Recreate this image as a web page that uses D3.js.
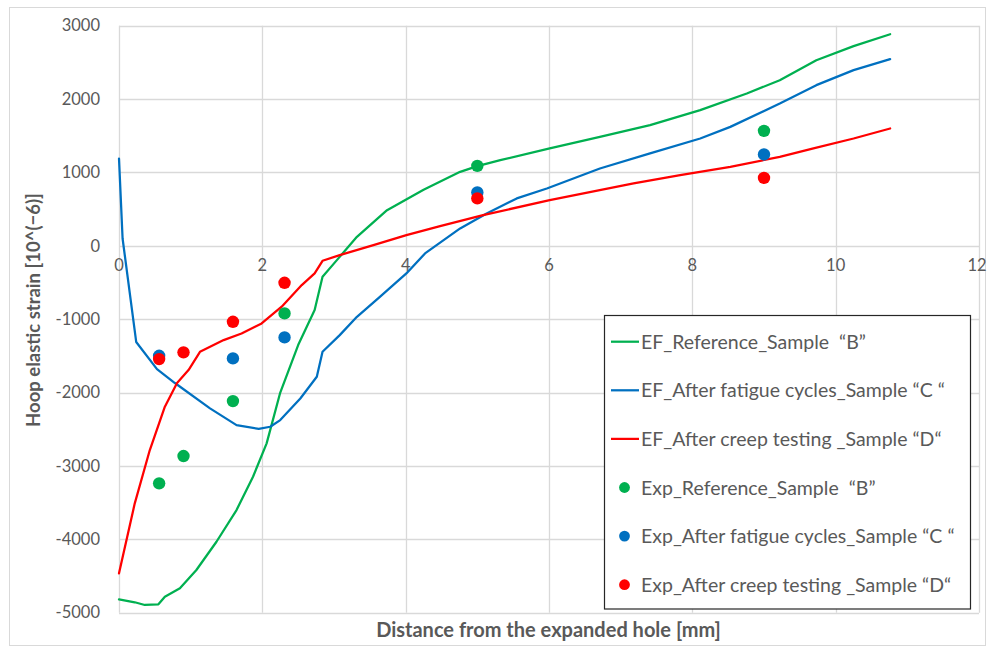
<!DOCTYPE html>
<html>
<head>
<meta charset="utf-8">
<script src="https://cdn.jsdelivr.net/npm/d3@7"></script>
<style>
  html, body { margin: 0; padding: 0; background: #fff; }
  svg { display: block; font-family: Lato, "Open Sans", sans-serif; }
</style>
</head>
<body>
<svg id="chart" width="987" height="653"></svg>
<script>
// ---- data ----
const xTicks = [0, 2, 4, 6, 8, 10, 12];
const yTicks = [3000, 2000, 1000, 0, -1000, -2000, -3000, -4000, -5000];

const efRefX = [0, 0.22, 0.36, 0.55, 0.64, 0.85, 1.08, 1.36, 1.64, 1.87, 2.06, 2.25, 2.5, 2.73, 2.84, 3.04, 3.32, 3.74, 4.25, 4.76, 5.0, 5.32, 6.01, 6.71, 7.41, 8.11, 8.76, 9.22, 9.73, 10.25, 10.76];
const efRefY = [-4817, -4858, -4895, -4886, -4782, -4668, -4418, -4033, -3601, -3147, -2692, -2000, -1353, -876, -422, -195, 123, 486, 765, 1008, 1086, 1168, 1327, 1485, 1644, 1849, 2076, 2257, 2530, 2721, 2884];

const efFatX = [0, 0.05, 0.24, 0.53, 0.78, 1.27, 1.64, 1.95, 2.11, 2.25, 2.53, 2.76, 2.84, 3.08, 3.32, 3.64, 4.01, 4.27, 4.76, 5.13, 5.55, 5.97, 6.71, 7.41, 8.11, 8.53, 9.22, 9.73, 10.25, 10.76];
const efFatY = [1190, 100, -1310, -1680, -1870, -2215, -2443, -2495, -2466, -2375, -2080, -1785, -1444, -1217, -967, -695, -376, -104, 237, 441, 646, 782, 1054, 1259, 1463, 1621, 1940, 2190, 2394, 2544];

const efCreepX = [0, 0.22, 0.43, 0.64, 0.81, 0.97, 1.13, 1.46, 1.71, 1.99, 2.27, 2.55, 2.73, 2.84, 3.08, 3.55, 4.01, 4.48, 5.08, 6.01, 7.18, 7.83, 8.53, 9.22, 9.69, 10.25, 10.76];
const efCreepY = [-4463, -3510, -2783, -2193, -1870, -1693, -1444, -1285, -1194, -1057, -830, -535, -376, -204, -127, 10, 146, 268, 418, 623, 850, 963, 1076, 1213, 1327, 1463, 1599];

const expRefX = [0.56, 0.9, 1.59, 2.31, 5.0, 9.0];
const expRefY = [-3237, -2865, -2116, -921, 1090, 1567];
const expFatX = [0.56, 1.59, 2.31, 5.0, 9.0];
const expFatY = [-1499, -1534, -1248, 727, 1245];
const expCreepX = [0.56, 0.9, 1.59, 2.31, 5.0, 9.0];
const expCreepY = [-1544, -1452, -1035, -504, 646, 926];

const legendLabels = [
  "EF_Reference_Sample  \u201CB\u201D",
  "EF_After fatigue cycles_Sample \u201CC \u201C",
  "EF_After creep testing _Sample \u201CD\u201C",
  "Exp_Reference_Sample  \u201CB\u201D",
  "Exp_After fatigue cycles_Sample \u201CC \u201C",
  "Exp_After creep testing _Sample \u201CD\u201C"
];
const xTitle = "Distance from the expanded hole [mm]";
const yTitle = "Hoop elastic strain [10^(\u22126)]";

// ---- build ----
const colors = { ref: "#00B050", fat: "#0070C0", creep: "#FF0000" };
const zip = (xs, ys) => xs.map((x, i) => ({ x, y: ys[i] }));
const lines = [
  { key: "ref", data: zip(efRefX, efRefY) },
  { key: "fat", data: zip(efFatX, efFatY) },
  { key: "creep", data: zip(efCreepX, efCreepY) }
];
const points = [
  { key: "ref", data: zip(expRefX, expRefY) },
  { key: "fat", data: zip(expFatX, expFatY) },
  { key: "creep", data: zip(expCreepX, expCreepY) }
];

const svg = d3.select("#chart");
const grid = "#d9d9d9", textCol = "#595959";

// chart area border
svg.append("rect").attr("x", 9.5).attr("y", 7.5).attr("width", 976).attr("height", 638)
  .attr("fill", "#fff").attr("stroke", grid).attr("stroke-width", 1);

const x = d3.scaleLinear().domain([0, 12]).range([119, 979]);
const y = d3.scaleLinear().domain([-5000, 3000]).range([612.7, 25.7]);

// gridlines
svg.append("g").selectAll("line").data(yTicks).join("line")
  .attr("x1", x(0)).attr("x2", x(12))
  .attr("y1", d => Math.round(y(d)) + 0.5).attr("y2", d => Math.round(y(d)) + 0.5)
  .attr("stroke", grid).attr("stroke-width", 1.3);
svg.append("g").selectAll("line").data(xTicks).join("line")
  .attr("y1", y(3000)).attr("y2", y(-5000))
  .attr("x1", d => Math.round(x(d)) + 0.5).attr("x2", d => Math.round(x(d)) + 0.5)
  .attr("stroke", grid).attr("stroke-width", 1.3);

// y tick labels
svg.append("g").selectAll("text").data(yTicks).join("text")
  .attr("x", 100).attr("y", d => y(d)).attr("dy", "0.35em")
  .attr("text-anchor", "end").attr("fill", textCol).attr("font-size", 16.5)
  .text(d => d);
// x tick labels (at the zero line); the last one sits at the right edge
svg.append("g").selectAll("text").data(xTicks).join("text")
  .attr("x", d => d === 12 ? 977 : x(d)).attr("y", y(0) + 25.5)
  .attr("text-anchor", "middle").attr("fill", textCol).attr("font-size", 16.5)
  .text(d => d);

// lines
const lineGen = d3.line().x(d => x(d.x)).y(d => y(d.y));
svg.append("g").selectAll("path").data(lines).join("path")
  .attr("d", d => lineGen(d.data))
  .attr("fill", "none").attr("stroke", d => colors[d.key])
  .attr("stroke-width", 2.25).attr("stroke-linejoin", "round").attr("stroke-linecap", "round");

// markers
points.forEach(s => {
  svg.append("g").selectAll("circle").data(s.data).join("circle")
    .attr("cx", d => x(d.x)).attr("cy", d => y(d.y)).attr("r", 6.2)
    .attr("fill", colors[s.key]);
});

// axis titles
svg.append("text").attr("x", 548.5).attr("y", 637)
  .attr("text-anchor", "middle").attr("font-weight", "bold").attr("font-size", 20)
  .attr("fill", textCol).text(xTitle);
svg.append("text").attr("transform", "translate(40,310) rotate(-90)")
  .attr("text-anchor", "middle").attr("font-weight", "bold").attr("font-size", 18.5)
  .attr("fill", textCol).text(yTitle);

// legend
const lg = svg.append("g");
lg.append("rect").attr("x", 604.5).attr("y", 315.5).attr("width", 366).attr("height", 293.5)
  .attr("fill", "#fff").attr("stroke", "#262626").attr("stroke-width", 1.2);
const keys = ["ref", "fat", "creep", "ref", "fat", "creep"];
const rowY = d3.scaleLinear().domain([0, 5]).range([341.7, 584.7]);
legendLabels.forEach((lab, i) => {
  const cy = rowY(i);
  if (i < 3) {
    lg.append("line").attr("x1", 611).attr("x2", 639).attr("y1", cy).attr("y2", cy)
      .attr("stroke", colors[keys[i]]).attr("stroke-width", 2.25);
  } else {
    lg.append("circle").attr("cx", 624.5).attr("cy", cy).attr("r", 5.4).attr("fill", colors[keys[i]]);
  }
  lg.append("text").attr("x", 641).attr("y", cy).attr("dy", "0.36em")
    .style("white-space", "pre")
    .attr("fill", textCol).attr("font-size", 19.5).text(lab);
});
</script>
</body>
</html>
